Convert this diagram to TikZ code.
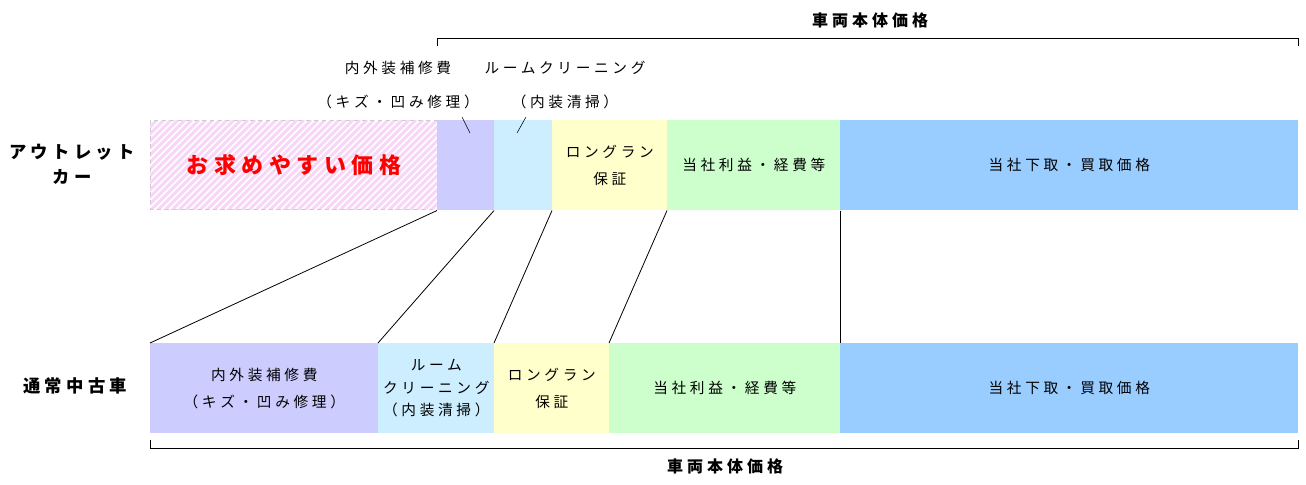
\documentclass[tikz,border=0pt]{standalone}
\usepackage{fontspec}
\setmainfont[LetterSpace=25]{Noto Sans CJK JP}
\definecolor{Hatch}{RGB}{248,214,248}
\definecolor{Repair}{RGB}{204,204,255}
\definecolor{Clean}{RGB}{204,238,255}
\definecolor{Warranty}{RGB}{255,255,204}
\definecolor{Profit}{RGB}{204,255,204}
\definecolor{Trade}{RGB}{153,204,255}
\tikzset{
  seg/.style={draw=none,minimum height=67.5pt,inner sep=0pt,align=center,font=\fontsize{11}{20}\selectfont,anchor=north west},
  lbl/.style={font=\fontsize{11}{25}\selectfont,align=center},
  row/.style={font=\bfseries\fontsize{13}{19}\selectfont,align=center},
  conn/.style={draw=black,line width=0.6pt}
}
\begin{document}
\begin{tikzpicture}[x=0.75pt,y=-0.75pt]
\useasboundingbox (0,0) rectangle (1306,485);
% top row
\begin{scope}
\clip (150,120) rectangle (437,209);
\foreach \i in {0,7,...,420}
  \draw[Hatch,line width=2.2pt] (150+\i-100,220) -- (150+\i,120);
\end{scope}
\draw[gray!40,dashed] (150,120) rectangle (437,209);
\node[seg,minimum width=215.25pt,text=red,font=\bfseries\fontsize{16.5}{20}\selectfont] (cheap) at (150,120) {お求めやすい価格};
\node[seg,fill=Repair,minimum width=42.75pt] (t1) at (437,120) {};
\node[seg,fill=Clean,minimum width=43.5pt] (t2) at (494,120) {};
\node[seg,fill=Warranty,minimum width=86.25pt] (t3) at (552,120) {ロングラン\\保証};
\node[seg,fill=Profit,minimum width=129.75pt] (t4) at (667,120) {当社利益・経費等};
\node[seg,fill=Trade,minimum width=343.5pt] (t5) at (840,120) {当社下取・買取価格};
% bottom row
\node[seg,fill=Repair,minimum width=171pt] (b1) at (150,343) {内外装補修費\\（キズ・凹み修理）};
\node[seg,fill=Clean,minimum width=87pt,font=\fontsize{11}{17}\selectfont] (b2) at (378,343) {ルーム\\クリーニング\\（内装清掃）};
\node[seg,fill=Warranty,minimum width=86.25pt] (b3) at (494,343) {ロングラン\\保証};
\node[seg,fill=Profit,minimum width=173.25pt] (b4) at (609,343) {当社利益・経費等};
\node[seg,fill=Trade,minimum width=343.5pt] (b5) at (840,343) {当社下取・買取価格};
% row labels
\node[row] (outlet) at (72,164) {アウトレット\\カー};
\node[row] (usual) at (75,386) {通常中古車};
% labels above
\node[lbl] (repairlbl) at (398,85) {内外装補修費\\（キズ・凹み修理）};
\node[lbl] (cleanlbl) at (565,85) {ルームクリーニング\\（内装清掃）};
\coordinate (p1) at (470,133);
\coordinate (p2) at (517,133);
\draw[conn,line width=0.4pt] (462,117) -- (p1);
\draw[conn,line width=0.4pt] (526,117) -- (p2);
% connectors
\draw[conn] (t1.south west) -- (b1.north west);
\draw[conn] (t2.south west) -- (b2.north west);
\draw[conn] (t3.south west) -- (b3.north west);
\draw[conn] (t4.south west) -- (b4.north west);
\draw[conn] (t5.south west) -- (b5.north west);
% brackets
\draw[conn,line width=0.4pt] (437,46) -- (437,38) -- (1298,38) -- (1298,46);
\node[lbl,font=\bfseries\fontsize{12}{13}\selectfont] (toptotal) at (870,20) {車両本体価格};
\draw[conn,line width=0.4pt] (150,440) -- (150,448) -- (1298,448) -- (1298,440);
\node[lbl,font=\bfseries\fontsize{12}{13}\selectfont] (bottotal) at (725,466) {車両本体価格};
\end{tikzpicture}
\end{document}
